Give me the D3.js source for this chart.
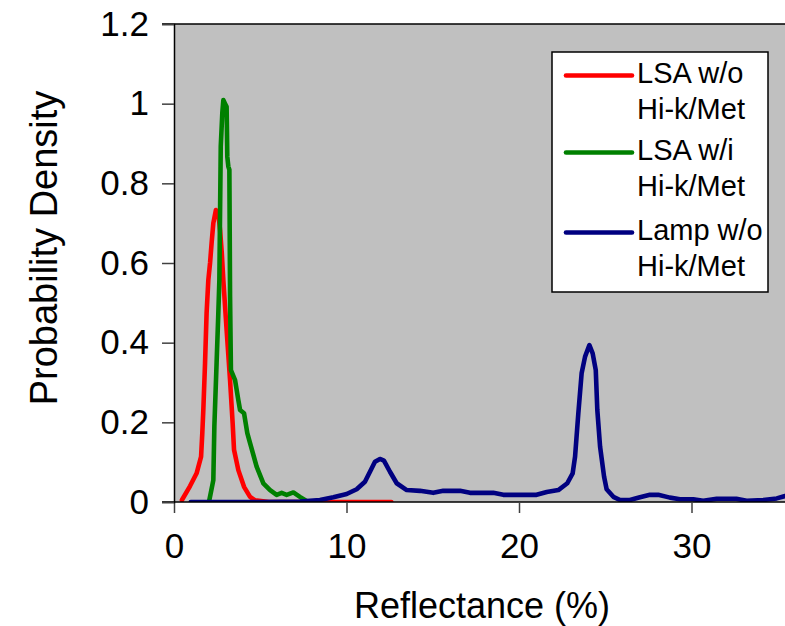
<!DOCTYPE html>
<html>
<head>
<meta charset="utf-8">
<script src="https://cdn.jsdelivr.net/npm/d3@7"></script>
<style>
  html, body { margin: 0; padding: 0; background: #fff; }
  svg { display: block; font-family: Arial, "Liberation Sans", sans-serif; }
</style>
</head>
<body>
<svg id="chart" width="785" height="626"></svg>
<script>
// Reflectance (%) / probability density pairs for each sample
const lsaWithoutX = [0.46, 0.93, 1.31, 1.57, 1.64, 1.70, 1.80, 1.89, 1.99, 2.09, 2.18, 2.28, 2.43, 2.57, 2.67, 2.77, 2.86, 3.05, 3.25, 3.40, 3.48, 3.73, 4.06, 4.41, 4.70, 5.5, 8.0, 10.0, 12.6];
const lsaWithoutY = [0.005, 0.04, 0.072, 0.114, 0.172, 0.231, 0.349, 0.474, 0.557, 0.60, 0.65, 0.70, 0.733, 0.725, 0.683, 0.625, 0.557, 0.432, 0.306, 0.198, 0.131, 0.080, 0.038, 0.013, 0.004, 0, 0, 0, 0];

const lsaWithX = [2.05, 2.28, 2.34, 2.47, 2.57, 2.63, 2.71, 2.80, 2.86, 2.96, 3.05, 3.09, 3.15, 3.21, 3.25, 3.30, 3.54, 3.73, 3.83, 4.06, 4.25, 4.41, 4.79, 5.18, 5.57, 5.95, 6.24, 6.53, 6.92, 7.30, 7.70];
const lsaWithY = [0.005, 0.055, 0.19, 0.35, 0.474, 0.557, 0.892, 0.976, 1.009, 1.0, 0.992, 0.867, 0.842, 0.834, 0.515, 0.331, 0.306, 0.256, 0.231, 0.223, 0.173, 0.148, 0.089, 0.047, 0.030, 0.018, 0.023, 0.018, 0.024, 0.013, 0.002];

const lampWithoutX = [0.97, 3.0, 5.0, 7.3, 8.46, 9.24, 10.01, 10.59, 11.07, 11.36, 11.65, 11.94, 12.17, 12.52, 12.91, 13.49, 14.26, 15.03, 15.61, 16.58, 17.16, 17.74, 18.51, 19.09, 21.02, 21.61, 22.28, 22.80, 23.11, 23.25, 23.44, 23.63, 23.83, 24.08, 24.27, 24.45, 24.54, 24.70, 24.93, 25.08, 25.47, 25.86, 26.43, 27.01, 27.59, 28.07, 28.75, 29.33, 30.10, 30.68, 31.46, 32.60, 33.20, 34.16, 34.94, 35.42];
const lampWithoutY = [0, 0, 0, 0.001, 0.005, 0.012, 0.020, 0.032, 0.051, 0.076, 0.101, 0.108, 0.104, 0.076, 0.047, 0.030, 0.028, 0.023, 0.028, 0.028, 0.023, 0.023, 0.023, 0.018, 0.018, 0.025, 0.030, 0.047, 0.072, 0.114, 0.223, 0.323, 0.365, 0.394, 0.373, 0.331, 0.231, 0.139, 0.064, 0.032, 0.013, 0.005, 0.005, 0.012, 0.018, 0.018, 0.011, 0.007, 0.007, 0.003, 0.008, 0.008, 0.003, 0.005, 0.009, 0.015];

const seriesNames = [["LSA w/o", "Hi-k/Met"], ["LSA w/i", "Hi-k/Met"], ["Lamp w/o", "Hi-k/Met"]];
const seriesColors = ["#ff0000", "#008000", "#000080"];
const xTicks = [0, 10, 20, 30];
const yTicks = [0, 0.2, 0.4, 0.6, 0.8, 1, 1.2];

const series = [
  { x: lsaWithoutX, y: lsaWithoutY },
  { x: lsaWithX, y: lsaWithY },
  { x: lampWithoutX, y: lampWithoutY }
].map((s, i) => ({
  name: seriesNames[i],
  color: seriesColors[i],
  points: s.x.map((v, j) => [v, s.y[j]])
}));

const svg = d3.select("#chart");
const plotLeft = 174, plotRight = 785, plotTop = 24, plotBottom = 502;

const x = d3.scaleLinear().domain([0, 35.42]).range([plotLeft, plotRight]);
const y = d3.scaleLinear().domain([0, 1.2]).range([plotBottom, plotTop]);

// plot area
svg.append("rect")
  .attr("x", plotLeft).attr("y", plotTop)
  .attr("width", plotRight - plotLeft).attr("height", plotBottom - plotTop)
  .attr("fill", "#c0c0c0");

svg.append("defs").append("clipPath").attr("id", "plotClip")
  .append("rect").attr("x", plotLeft).attr("y", plotTop - 2)
  .attr("width", plotRight - plotLeft).attr("height", plotBottom - plotTop + 2);

// top border
svg.append("line")
  .attr("x1", plotLeft - 12).attr("x2", plotRight).attr("y1", plotTop).attr("y2", plotTop)
  .attr("stroke", "#000").attr("stroke-width", 1.5);

// curves
const line = d3.line().x(d => x(d[0])).y(d => y(d[1])).curve(d3.curveLinear);
svg.append("g").attr("clip-path", "url(#plotClip)")
  .selectAll("path").data(series).join("path")
  .attr("d", d => line(d.points))
  .attr("fill", "none")
  .attr("stroke", d => d.color)
  .attr("stroke-width", 4.6)
  .attr("stroke-linejoin", "round")
  .attr("stroke-linecap", "round");

// axes
const xAxis = svg.append("g").attr("transform", `translate(0,${plotBottom})`)
  .call(d3.axisBottom(x).tickValues(xTicks).tickFormat(d3.format("d")).tickSize(11).tickPadding(20));
const yAxis = svg.append("g").attr("transform", `translate(${plotLeft},0)`)
  .call(d3.axisLeft(y).tickValues(yTicks).tickFormat(d => d3.format("")(d)).tickSize(12).tickPadding(13));

[xAxis, yAxis].forEach(g => {
  g.select(".domain").attr("stroke", "#000").attr("stroke-width", 1.5);
  g.selectAll(".tick line").attr("stroke", "#404040").attr("stroke-width", 1.5);
  g.selectAll(".tick text").attr("fill", "#000").style("font-size", "35px")
    .style("font-family", "Arial, 'Liberation Sans', sans-serif");
});
xAxis.select(".domain").attr("d", `M${plotLeft - 12},0H${plotRight}`);

// axis titles
svg.append("text")
  .attr("x", 482).attr("y", 618)
  .attr("text-anchor", "middle")
  .style("font-size", "36px")
  .text("Reflectance (%)");

svg.append("text")
  .attr("transform", "translate(57,248) rotate(-90)")
  .attr("text-anchor", "middle")
  .style("font-size", "38px")
  .text("Probability Density");

// legend
const legend = svg.append("g");
legend.append("rect")
  .attr("x", 552).attr("y", 52).attr("width", 216).attr("height", 240)
  .attr("fill", "#fff").attr("stroke", "#000").attr("stroke-width", 1.5);

const rowBase = [83, 160, 240];
const entries = legend.selectAll("g.entry").data(series).join("g").attr("class", "entry");
entries.append("line")
  .attr("x1", 566).attr("x2", 632)
  .attr("y1", (d, i) => rowBase[i] - 7.5).attr("y2", (d, i) => rowBase[i] - 7.5)
  .attr("stroke", d => d.color).attr("stroke-width", 4.6).attr("stroke-linecap", "round");
entries.append("text")
  .attr("x", 637)
  .attr("y", (d, i) => rowBase[i])
  .style("font-size", "29px")
  .selectAll("tspan").data(d => d.name).join("tspan")
  .attr("x", 637)
  .attr("dy", (d, k) => k === 0 ? 0 : 35.5)
  .text(d => d);
</script>
</body>
</html>
